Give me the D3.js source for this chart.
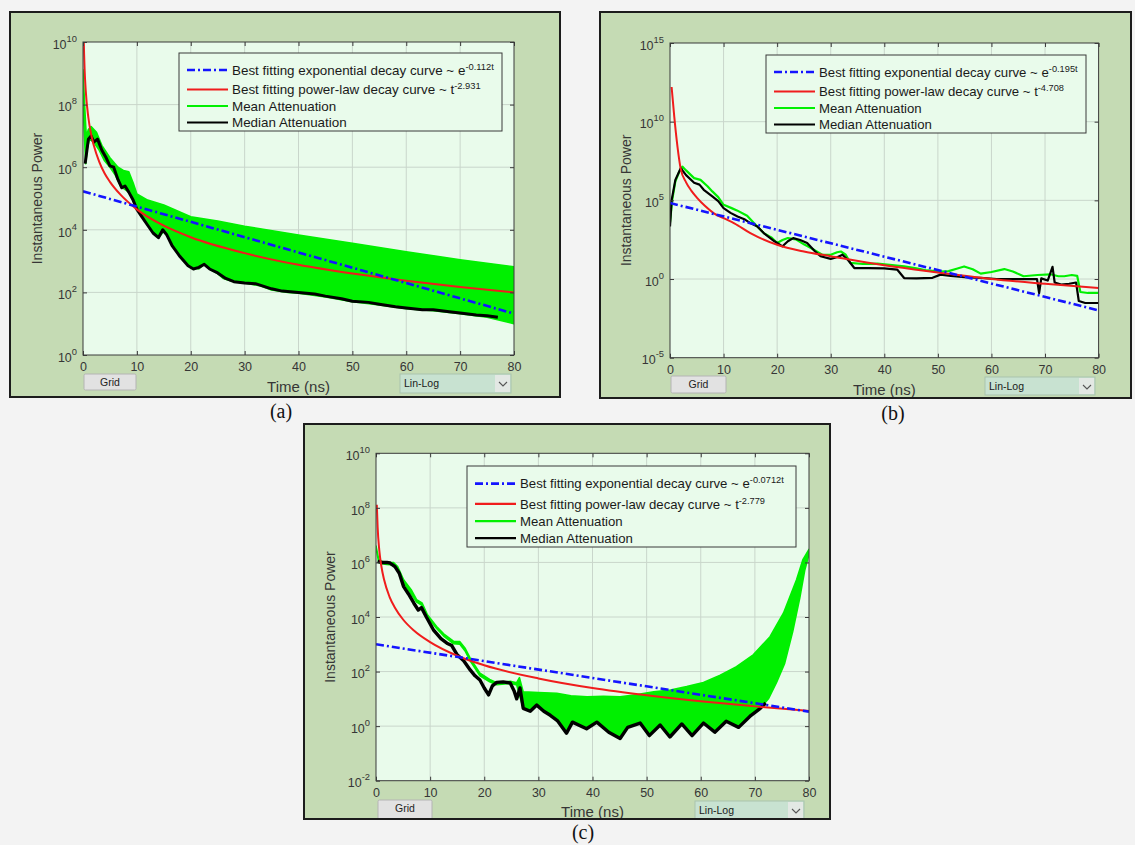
<!DOCTYPE html>
<html>
<head>
<meta charset="utf-8">
<script src="https://cdn.jsdelivr.net/npm/d3@7"></script>
<style>
  body { margin: 0; background: #f3f3f3; }
  svg { display: block; font-family: "Liberation Sans", Arial, Helvetica, sans-serif; }
</style>
</head>
<body>
<svg id="fig" width="1135" height="845"></svg>
<script>
// ---- data: [time (ns), instantaneous power] ----
const timeTicks = [0, 10, 20, 30, 40, 50, 60, 70, 80];

// panel (a)
const aExpFit = [[0, 1.7e5], [80, 21]];
const aPowFit = [[0.15, 1e10], [0.2, 4.3e9], [0.3, 1.3e9], [0.5, 2.9e8], [1, 3.8e7], [1.5, 1.15e7], [2, 5.0e6],
  [3, 1.5e6], [4, 6.4e5], [5, 3.4e5], [7, 1.3e5], [10, 4.5e4], [15, 1.35e4], [20, 5.8e3], [30, 1.8e3],
  [40, 760], [50, 400], [60, 235], [70, 148], [80, 100]];
const aMeanUpper = [[0, 1.3e9], [0.3, 1e8], [0.6, 1e7], [1, 1.6e7], [1.5, 2e7], [2.5, 1.3e7], [3.5, 5e6],
  [5, 2e6], [6.5, 1e6], [7.5, 7.9e5], [8.5, 7.1e5], [9.3, 3.2e5], [10, 1.4e5], [12, 8.9e4], [15, 6.2e4],
  [20, 2.6e4], [25, 1.9e4], [30, 1.3e4], [40, 6.8e3], [50, 3.7e3], [60, 2e3], [70, 1.1e3], [80, 660]];
const aMeanLower = [[0, 1e8], [0.5, 1.3e6], [0.8, 4e6], [1.2, 7.9e6], [2, 6.3e6], [3, 3.5e6], [4, 1.6e6],
  [5, 1e6], [6, 5.6e5], [7, 2.5e5], [7.7, 2e5], [8.5, 1.6e5], [9.3, 8.9e4], [10, 4.5e4], [11, 2.8e4],
  [12, 1.6e4], [13, 8.9e3], [14, 5.6e3], [15, 8.9e3], [15.6, 7.1e3], [16.5, 3.5e3], [18, 1.6e3], [20, 630],
  [21.5, 560], [22.5, 790], [23.5, 560], [25, 400], [26, 280], [28, 220], [30, 200], [33, 160], [35, 120],
  [38, 100], [40, 95], [45, 71], [50, 50], [55, 40], [60, 30], [65, 26], [70, 21], [75, 16], [80, 10]];
const aMedian = [[0.4, 1.3e6], [1, 7.9e6], [1.5, 1e7], [2, 6.3e6], [2.7, 7.9e6], [3.5, 3.5e6], [4.3, 2e6],
  [5, 1.1e6], [5.7, 1e6], [6.5, 4e5], [7.2, 2.2e5], [7.8, 2.5e5], [8.5, 1.6e5], [9.3, 8.9e4], [10, 4.5e4],
  [11, 2.5e4], [12, 1.4e4], [13, 7.9e3], [14, 5.6e3], [14.8, 1e4], [15.5, 7.1e3], [16.5, 3.2e3], [18, 1.4e3],
  [19.5, 710], [20.5, 560], [21.5, 630], [22.5, 790], [23.5, 560], [25, 420], [26.5, 280], [28, 220],
  [30, 200], [32, 190], [35, 130], [37, 110], [40, 100], [43, 89], [45, 76], [48, 63], [50, 52], [53, 48],
  [55, 42], [58, 35], [60, 32], [63, 28], [65, 28], [68, 24], [70, 22], [73, 19], [75, 18], [77, 16]];

// panel (b)
const bExpFit = [[0, 6.8e4], [80, 0.0102]];
const bPowFit = [[0.3, 1.6e12], [0.8, 2e10], [1.4, 2.5e8], [2, 1e7], [3, 1.4e6], [4, 4e5], [5.1, 1.4e5],
  [6.5, 4.5e4], [8.2, 1.5e4], [10, 7.4e3], [12, 3.5e3], [15, 830], [20, 150], [25, 56], [30, 28], [40, 7.4],
  [50, 2.6], [60, 1], [70, 0.5], [80, 0.27]];
const bMean = [[0, 4e3], [0.4, 1e5], [1, 1.6e6], [1.7, 6.3e6], [2.3, 1.4e7], [3, 8e6], [4.5, 2.6e6],
  [5.7, 2.0e6], [7, 7.9e5], [7.9, 3.7e5], [9, 1.6e5], [10, 5.2e4], [11.5, 3.2e4], [12.5, 2.3e4],
  [14.4, 1.05e4], [15.7, 3.5e3], [17.5, 830], [19, 420], [20, 195], [21, 300], [22, 400], [23.5, 330],
  [25, 160], [26.3, 93], [28.4, 35], [30, 35], [31.2, 50], [31.9, 56], [32.8, 35], [33.7, 10.5], [36, 9],
  [38.7, 9.5], [41, 8], [43.7, 6.3], [46, 4.8], [48, 3.5], [50.5, 3], [52, 3.2], [53.5, 4.5], [54.9, 6.3],
  [56.5, 4.2], [58, 2.2], [60, 2.8], [62.4, 4.3], [64, 3], [66, 1.5], [68.6, 1.8], [71, 2], [72.5, 1.5],
  [73.6, 1.5], [75, 1.8], [76, 1.6], [76.6, 0.15], [78, 0.13], [80, 0.13]];
const bMedian = [[0, 2.2e3], [0.3, 1e5], [1, 2e6], [2, 1.1e7], [3, 4e6], [4.5, 1.3e6], [5.5, 1e6],
  [6.3, 4.7e5], [7.9, 1.8e5], [9, 9e4], [10, 3.2e4], [11.3, 1.6e4], [12.6, 9.5e3], [14, 6e3], [15, 3.6e3],
  [16.3, 2.2e3], [17.5, 830], [19.5, 250], [21, 120], [22, 250], [23, 400], [24.3, 300], [25.6, 195],
  [27, 60], [28.1, 28], [30, 19], [31.3, 25], [32.2, 35], [33.3, 15], [34.4, 5], [37, 5], [40, 4.7],
  [42.4, 4], [43.7, 1.15], [46, 1.1], [49, 1.2], [50.5, 1.9], [52.4, 1.6], [55, 1.3], [58, 1.2], [61, 1],
  [65, 1], [68.5, 1], [68.9, 0.13], [69.3, 1.1], [70.5, 0.8], [71.4, 6], [71.8, 0.6], [73, 0.44],
  [74.5, 0.5], [75.8, 0.6], [76.3, 0.04], [77.5, 0.03], [80, 0.03]];

// panel (c)
const cExpFit = [[0, 1.0e3], [80, 3.4]];
const cPowFit = [[0.15, 1.3e8], [0.3, 2e7], [0.6, 2.9e6], [1, 7.1e5], [1.5, 2.3e5], [2.5, 5.5e4],
  [3.5, 2.2e4], [5, 8.1e3], [7, 3.2e3], [10, 1.2e3], [15, 380], [20, 170], [30, 56], [40, 25], [50, 13.5],
  [60, 8.1], [70, 5.3], [80, 3.6]];
const cMeanUpper = [[0, 4e6], [0.5, 1.3e6], [1, 1.1e6], [2, 1e6], [3.2, 1e6], [4, 7e5], [5.1, 2.3e5],
  [6.5, 1e5], [7.5, 4.3e4], [8.5, 3.3e4], [9.5, 1.2e4], [11.2, 4.5e3], [12.5, 2.4e3], [14.3, 1.3e3],
  [15.5, 1.25e3], [16.5, 700], [17.4, 310], [19.2, 87], [21, 51], [22.3, 39], [24.8, 44], [26, 39],
  [26.5, 60], [27.2, 18], [30, 17], [33.4, 16], [36, 13], [39, 12], [42, 12.5], [45.1, 12], [48, 14],
  [51.3, 18], [54.4, 21], [57.4, 28], [60.5, 40], [63.6, 74], [66.6, 150], [69.7, 410], [72.8, 1.9e3],
  [75.3, 1.4e4], [77.7, 2.3e5], [78.9, 1.3e6], [80, 3e6]];
const cMeanLower = [[0, 3.5e6], [0.5, 1e6], [1, 9e5], [2, 8.5e5], [3.2, 8e5], [4, 5.5e5], [5.1, 1.8e5],
  [6.5, 7e4], [7.5, 3.5e4], [8.5, 2.7e4], [9.5, 1e4], [11.2, 3.8e3], [12.5, 2e3], [14.3, 1.05e3],
  [15.5, 1e3], [16.5, 550], [17.4, 250], [19.2, 70], [21, 42], [22.3, 33], [24.8, 37], [26, 32],
  [27.2, 4.5], [28.5, 3.5], [29.7, 5.9], [31, 3.5], [32.2, 2.5], [33.5, 1.6], [35.2, 0.55], [36.3, 1.4],
  [38.9, 0.8], [40.8, 1.4], [43, 0.6], [45.1, 0.35], [46.5, 0.9], [48.8, 1.3], [50.5, 0.45], [52.5, 1.1],
  [54.3, 0.4], [56.5, 1.2], [58.4, 0.45], [60.5, 1.3], [62.6, 0.6], [64.7, 1.5], [67, 0.9], [69.3, 2.5],
  [71, 4.5], [72.5, 10], [74, 40], [75.5, 200], [77, 3e3], [78.3, 5e4], [79.2, 5e5], [80, 2e6]];
const cMedian = [[0.3, 1.1e6], [1, 1e6], [2, 1e6], [2.6, 9.5e5], [3.5, 7e5], [4.3, 4e5], [5.1, 1.3e5],
  [6, 7e4], [7, 3.2e4], [7.8, 1.8e4], [8.4, 2.2e4], [9.3, 1e4], [10.6, 3.4e3], [12, 1.6e3], [13.1, 1.1e3],
  [14, 900], [15, 410], [16.2, 250], [17.4, 115], [18.3, 70], [19.2, 49], [20, 25], [20.8, 14], [21.5, 30],
  [22.3, 40], [23.5, 42], [24.8, 38], [25.5, 20], [26, 10], [26.6, 25], [27.2, 4.5], [28.5, 3.5],
  [29.7, 5.9], [31, 3.5], [32.2, 2.5], [33.5, 1.6], [35.2, 0.55], [36.3, 1.4], [38.9, 0.8], [40.8, 1.4],
  [43, 0.6], [45.1, 0.35], [46.5, 0.9], [48.8, 1.3], [50.5, 0.45], [52.5, 1.1], [54.3, 0.4], [56.5, 1.2],
  [58.4, 0.45], [60.5, 1.3], [62.6, 0.6], [64.7, 1.5], [67, 0.9], [69.3, 2.5], [71, 4.5], [72, 7]];

const legendLabels = ["Best fitting exponential decay curve ~ e", "Best fitting power-law decay curve ~ t",
  "Mean Attenuation", "Median Attenuation"];

// ---- layout of the three panels ----
const panels = [
  {
    key: "a", frame: { x: 10, y: 12, w: 550, h: 385 }, plot: { x: 83, y: 42, w: 431, h: 313 },
    yDomain: [1, 1e10], yTicks: [1, 1e2, 1e4, 1e6, 1e8, 1e10],
    legend: { x: 179, y: 53, w: 323, h: 78, font: 13.4 }, expSup: "-0.112t", powSup: "-2.931",
    gridBtn: { x: 84, y: 374, w: 52, h: 16 }, drop: { x: 400, y: 374, w: 111, h: 19 },
    ylabelX: 37, xlabelY: 392, caption: { x: 281, y: 418 },
    exp: aExpFit, pow: aPowFit, upper: aMeanUpper, lower: aMeanLower, median: aMedian, medW: 3
  },
  {
    key: "b", frame: { x: 600, y: 12, w: 531, h: 386 }, plot: { x: 670, y: 43, w: 428.6, h: 314.7 },
    yDomain: [1e-5, 1e15], yTicks: [1e-5, 1, 1e5, 1e10, 1e15],
    legend: { x: 766, y: 55, w: 320, h: 78, font: 13.2 }, expSup: "-0.195t", powSup: "-4.708",
    gridBtn: { x: 671, y: 376, w: 55, h: 17 }, drop: { x: 985, y: 377, w: 110, h: 18 },
    ylabelX: 626, xlabelY: 395, caption: { x: 893, y: 420 },
    exp: bExpFit, pow: bPowFit, upper: bMean, lower: null, median: bMedian, medW: 2.2
  },
  {
    key: "c", frame: { x: 304, y: 424, w: 526, h: 395 }, plot: { x: 376, y: 453.3, w: 433, h: 327.4 },
    yDomain: [1e-2, 1e10], yTicks: [1e-2, 1, 1e2, 1e4, 1e6, 1e8, 1e10],
    legend: { x: 467, y: 466, w: 329, h: 81, font: 13.2 }, expSup: "-0.0712t", powSup: "-2.779",
    gridBtn: { x: 378, y: 800, w: 54, h: 22 }, drop: { x: 695, y: 801, w: 109, h: 22 },
    ylabelX: 330, xlabelY: 817, caption: { x: 583, y: 839 },
    exp: cExpFit, pow: cPowFit, upper: cMeanUpper, lower: cMeanLower, median: cMedian, medW: 3.4
  }
];

const C = {
  frame: "#c5dbb4", plotBg: "#e9fbeb", grid: "#c9d6cb", axis: "#3a3a3a", text: "#363636",
  blue: "#1414ff", red: "#f01c1c", green: "#00f000", black: "#000000"
};

const svg = d3.select("#fig");
const defs = svg.append("defs");

panels.forEach(drawPanel);

function drawPanel(p) {
  const f = p.frame, pl = p.plot;
  const g = svg.append("g").attr("class", "panel-" + p.key);

  defs.append("clipPath").attr("id", "frame-" + p.key)
    .append("rect").attr("x", f.x).attr("y", f.y).attr("width", f.w).attr("height", f.h);
  defs.append("clipPath").attr("id", "plot-" + p.key)
    .append("rect").attr("x", pl.x).attr("y", pl.y).attr("width", pl.w).attr("height", pl.h);

  g.append("rect")
    .attr("x", f.x).attr("y", f.y).attr("width", f.w).attr("height", f.h)
    .attr("fill", C.frame);

  const inner = g.append("g").attr("clip-path", `url(#frame-${p.key})`);

  const x = d3.scaleLinear().domain([0, 80]).range([pl.x, pl.x + pl.w]);
  const y = d3.scaleLog().domain(p.yDomain).range([pl.y + pl.h, pl.y]);

  inner.append("rect")
    .attr("x", pl.x).attr("y", pl.y).attr("width", pl.w).attr("height", pl.h)
    .attr("fill", C.plotBg);

  // grid
  const gridG = inner.append("g").attr("stroke", C.grid).attr("stroke-width", 1);
  gridG.selectAll("line.vx").data(timeTicks.slice(1, -1)).join("line")
    .attr("x1", d => x(d)).attr("x2", d => x(d))
    .attr("y1", pl.y).attr("y2", pl.y + pl.h);
  gridG.selectAll("line.hy").data(p.yTicks.slice(1, -1)).join("line")
    .attr("x1", pl.x).attr("x2", pl.x + pl.w)
    .attr("y1", d => y(d)).attr("y2", d => y(d));

  // data
  const dataG = inner.append("g").attr("clip-path", `url(#plot-${p.key})`);
  const line = d3.line().x(d => x(d[0])).y(d => y(d[1]));
  const smooth = d3.line().x(d => x(d[0])).y(d => y(d[1])).curve(d3.curveMonotoneX);

  if (p.lower) {
    const band = p.upper.concat(p.lower.slice().reverse());
    dataG.append("path")
      .attr("d", line(band) + "Z")
      .attr("fill", C.green)
      .attr("stroke", C.green).attr("stroke-width", 1.6).attr("stroke-linejoin", "round");
  } else {
    dataG.append("path")
      .attr("d", line(p.upper))
      .attr("fill", "none").attr("stroke", C.green).attr("stroke-width", 2.2)
      .attr("stroke-linejoin", "round");
  }

  dataG.append("path")
    .attr("d", line(p.median))
    .attr("fill", "none").attr("stroke", C.black).attr("stroke-width", p.medW)
    .attr("stroke-linejoin", "round");

  dataG.append("path")
    .attr("d", smooth(p.pow))
    .attr("fill", "none").attr("stroke", C.red).attr("stroke-width", 2);

  dataG.append("path")
    .attr("d", line(p.exp))
    .attr("fill", "none").attr("stroke", C.blue).attr("stroke-width", 2.6)
    .attr("stroke-dasharray", "8,3,2,3");

  // axes (ticks pointing inward, box on all sides)
  inner.append("g").attr("transform", `translate(0,${pl.y + pl.h})`)
    .call(d3.axisBottom(x).tickValues(timeTicks).tickSize(-4).tickPadding(7).tickSizeOuter(0));
  inner.append("g").attr("transform", `translate(0,${pl.y})`)
    .call(d3.axisTop(x).tickValues(timeTicks).tickSize(-4).tickFormat("").tickSizeOuter(0));
  const yl = inner.append("g").attr("transform", `translate(${pl.x},0)`)
    .call(d3.axisLeft(y).tickValues(p.yTicks).tickSize(-4).tickPadding(6).tickSizeOuter(0));
  inner.append("g").attr("transform", `translate(${pl.x + pl.w},0)`)
    .call(d3.axisRight(y).tickValues(p.yTicks).tickSize(-4).tickFormat("").tickSizeOuter(0));

  inner.selectAll(".domain").remove();
  inner.selectAll(".tick line").attr("stroke", C.axis);
  inner.selectAll(".tick text").attr("fill", C.text).attr("font-size", 12.5)
    .attr("font-family", "'Liberation Sans', Arial, sans-serif");

  yl.selectAll(".tick text").each(function (d) {
    const t = d3.select(this).text(null).attr("dy", "0.5em");
    t.append("tspan").text("10");
    t.append("tspan").attr("dy", "-0.75em").attr("font-size", "0.75em")
      .text(String(Math.round(Math.log10(d))));
  });

  inner.append("rect")
    .attr("x", pl.x).attr("y", pl.y).attr("width", pl.w).attr("height", pl.h)
    .attr("fill", "none").attr("stroke", C.axis).attr("stroke-width", 1);

  // axis labels
  inner.append("text")
    .attr("x", x(40)).attr("y", p.xlabelY)
    .attr("text-anchor", "middle").attr("font-size", 15).attr("fill", C.text)
    .text("Time (ns)");
  inner.append("text")
    .attr("transform", `translate(${p.ylabelX},${pl.y + pl.h / 2}) rotate(-90)`)
    .attr("text-anchor", "middle").attr("dominant-baseline", "central")
    .attr("font-size", 14).attr("fill", C.text)
    .text("Instantaneous Power");

  // legend
  const L = p.legend;
  const lg = inner.append("g");
  lg.append("rect")
    .attr("x", L.x).attr("y", L.y).attr("width", L.w).attr("height", L.h)
    .attr("fill", C.plotBg).attr("stroke", C.axis).attr("stroke-width", 1);
  const rowOff = [17, 36.5, 53, 69.5];
  const styles = [
    { stroke: C.blue, w: 2.6, dash: "8,3,2,3", sup: p.expSup },
    { stroke: C.red, w: 2.2, dash: null, sup: p.powSup },
    { stroke: C.green, w: 2.2, dash: null, sup: null },
    { stroke: C.black, w: 2.2, dash: null, sup: null }
  ];
  legendLabels.forEach((lab, i) => {
    const ry = L.y + rowOff[i] * L.h / 78;
    const s = styles[i];
    lg.append("line")
      .attr("x1", L.x + 8).attr("x2", L.x + 49).attr("y1", ry).attr("y2", ry)
      .attr("stroke", s.stroke).attr("stroke-width", s.w)
      .attr("stroke-dasharray", s.dash);
    const t = lg.append("text")
      .attr("x", L.x + 53).attr("y", ry + L.font * 0.36)
      .attr("font-size", L.font).attr("fill", "#1a1a1a");
    t.append("tspan").text(lab);
    if (s.sup) {
      t.append("tspan").attr("dy", "-0.55em").attr("font-size", "0.7em").text(s.sup);
    }
  });

  // ui widgets at the bottom of the figure
  const gb = p.gridBtn;
  inner.append("rect")
    .attr("x", gb.x).attr("y", gb.y).attr("width", gb.w).attr("height", gb.h).attr("rx", 1.5)
    .attr("fill", "#e2e2e2").attr("stroke", "#b4b4b4");
  inner.append("text")
    .attr("x", gb.x + gb.w / 2).attr("y", gb.y + 12)
    .attr("text-anchor", "middle").attr("font-size", 10.5).attr("fill", "#222")
    .text("Grid");

  const dd = p.drop;
  inner.append("rect")
    .attr("x", dd.x).attr("y", dd.y).attr("width", dd.w).attr("height", dd.h)
    .attr("fill", "#c8e2d1").attr("stroke", "#a9c3ad");
  inner.append("rect")
    .attr("x", dd.x + dd.w - 16).attr("y", dd.y + 1).attr("width", 15).attr("height", dd.h - 2)
    .attr("fill", "#e3e8e4");
  inner.append("path")
    .attr("d", `M${dd.x + dd.w - 12},${dd.y + 8} l4,4 l4,-4`)
    .attr("fill", "none").attr("stroke", "#555").attr("stroke-width", 1.1);
  inner.append("text")
    .attr("x", dd.x + 4).attr("y", dd.y + 13)
    .attr("font-size", 10.5).attr("fill", "#1a1a1a")
    .text("Lin-Log");

  // frame border
  g.append("rect")
    .attr("x", f.x).attr("y", f.y).attr("width", f.w).attr("height", f.h)
    .attr("fill", "none").attr("stroke", "#1c1c1c").attr("stroke-width", 2);

  // caption
  svg.append("text")
    .attr("x", p.caption.x).attr("y", p.caption.y)
    .attr("text-anchor", "middle")
    .attr("font-family", "'Liberation Serif', 'Times New Roman', serif")
    .attr("font-size", 20).attr("fill", "#111")
    .text(`(${p.key})`);
}
</script>
</body>
</html>
